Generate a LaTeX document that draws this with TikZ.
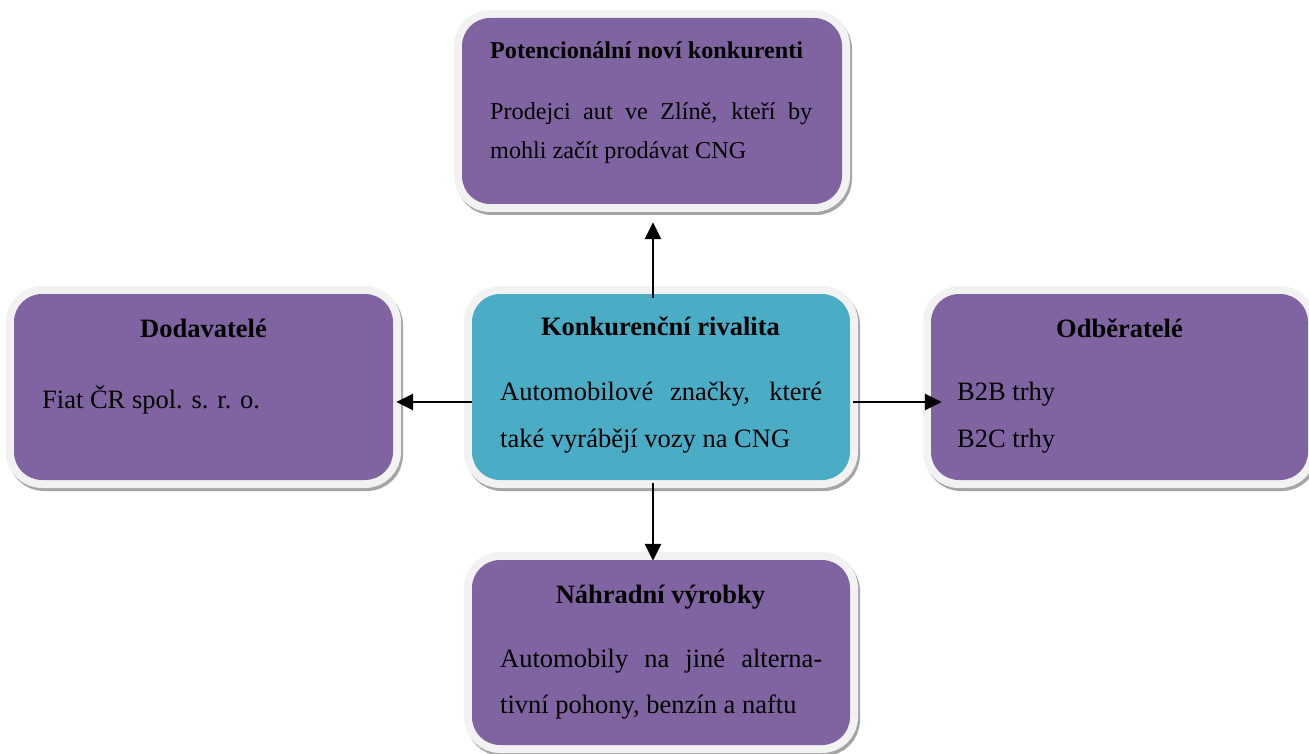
\documentclass[tikz,border=0pt]{standalone}
\usepackage{fontspec}
\setmainfont{Liberation Serif}
\usetikzlibrary{arrows.meta}
\definecolor{boxpurple}{HTML}{8064A2}
\definecolor{boxteal}{HTML}{4BACC6}
\definecolor{ringgray}{HTML}{F2F2F2}
\definecolor{shadowgray}{HTML}{A5A5A5}

\tikzset{
  forcebox/.style={rounded corners=28pt, inner sep=0pt, fill=boxpurple,
    minimum width=378pt, minimum height=186pt,
    preaction={fill=shadowgray, draw=shadowgray, line width=16pt,
      transform canvas={shift={(2pt,-3pt)}}},
    preaction={fill=ringgray, draw=ringgray, line width=16pt}},
  headtxt/.style={anchor=base, inner sep=0pt, font=\fontsize{26.5pt}{30pt}\selectfont\bfseries},
  bodytxt/.style={anchor=base west, inner sep=0pt, font=\fontsize{26.5pt}{30pt}\selectfont},
  forcearrow/.style={line width=2.8pt, -{Triangle[length=17pt,width=16pt]}}
}

\begin{document}
\begin{tikzpicture}[x=1pt, y=-1pt]
\useasboundingbox (0,0) rectangle (1309,754);

% boxes
\node[forcebox, minimum width=380pt] (potenc) at (652,111) {};
\node[forcebox, minimum width=379pt] (dodav) at (203.5,387) {};
\node[forcebox, fill=boxteal] (rival) at (661,387) {};
\node[forcebox, minimum width=377pt] (odber) at (1119.5,387) {};
\node[forcebox, minimum height=185pt] (nahrad) at (661,652.5) {};

% texts
\node[headtxt, anchor=base west, font=\fontsize{24.2pt}{28pt}\selectfont\bfseries] (potenchead) at (490,59) {Potencionální noví konkurenti};
\node[bodytxt, font=\fontsize{24.2pt}{28pt}\selectfont] (potencbodya) at (490,120) {\makebox[322pt][s]{Prodejci aut ve Zlíně, kteří by}};
\node[bodytxt, font=\fontsize{24.2pt}{28pt}\selectfont] (potencbodyb) at (490,159) {mohli začít prodávat CNG};

\node[headtxt] (dodavhead) at (203.5,337) {Dodavatelé};
\node[bodytxt] (dodavbody) at (42,408) {Fiat ČR spol. s. r. o.};

\node[headtxt] (rivalhead) at (660.5,335) {Konkurenční rivalita};
\node[bodytxt] (rivalbodya) at (500,400) {\makebox[322pt][s]{Automobilové značky, které}};
\node[bodytxt] (rivalbodyb) at (500,447) {také vyrábějí vozy na CNG};

\node[headtxt] (odberhead) at (1119.5,337) {Odběratelé};
\node[bodytxt] (odberbodya) at (957,400) {B2B trhy};
\node[bodytxt] (odberbodyb) at (957,447) {B2C trhy};

\node[headtxt] (nahradhead) at (660.5,603) {Náhradní výrobky};
\node[bodytxt] (nahradbodya) at (500,667) {\makebox[322pt][s]{Automobily na jiné alterna-}};
\node[bodytxt] (nahradbodyb) at (500,713) {tivní pohony, benzín a naftu};

% arrows
\draw[forcearrow, shorten <=-4pt, shorten >=18pt] ([xshift=-8pt]rival.north) -- ([xshift=1pt]potenc.south);
\draw[forcearrow, shorten >=3pt] ([yshift=-15pt]rival.west) -- ([yshift=-15pt]dodav.east);
\draw[forcearrow, shorten <=3pt, shorten >=-11pt] ([yshift=-15pt]rival.east) -- ([yshift=-15pt]odber.west);
\draw[forcearrow, shorten <=3pt, shorten >=-1pt] ([xshift=-8pt]rival.south) -- ([xshift=-8pt]nahrad.north);
\end{tikzpicture}
\end{document}
